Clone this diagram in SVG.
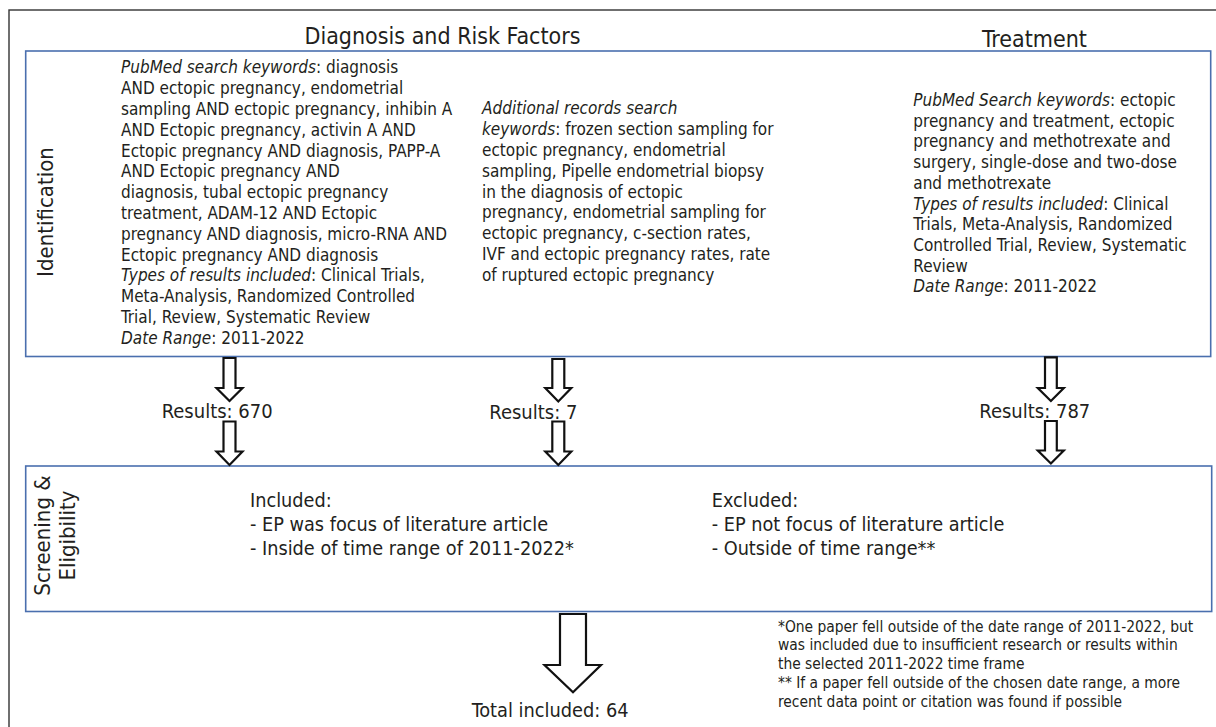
<svg xmlns="http://www.w3.org/2000/svg" width="1216" height="727" viewBox="0 0 1216 727">
<style>
text{font-family:"DejaVu Sans Condensed","DejaVu Sans",sans-serif;font-stretch:condensed;fill:#231f20}
.hd{font-size:23px}
.lb{font-size:22px}
.bd{font-size:17px}
.rs{font-size:20px}
.cr{font-size:19.7px}
.ft{font-size:15.4px}
.box{fill:none;stroke:#4a6fae;stroke-width:1.6}
.arr{fill:#fff;stroke:#111;stroke-width:2.2;stroke-linejoin:miter}
.it{font-style:italic}
</style>
<rect x="9" y="10" width="1230" height="740" fill="none" stroke="#333" stroke-width="1.4"/>
<text class="hd" x="442.5" y="44" text-anchor="middle">Diagnosis and Risk Factors</text>
<text class="hd" x="1034.5" y="47" text-anchor="middle">Treatment</text>
<g id="identification">
<rect class="box" x="25.7" y="51" width="1185" height="305.5"/>
<text class="lb" transform="translate(53,212) rotate(-90)" text-anchor="middle">Identification</text>
<text class="bd" x="121" y="73.3"><tspan class="it">PubMed search keywords</tspan>: diagnosis</text>
<text class="bd" x="121" y="94.1">AND ectopic pregnancy, endometrial</text>
<text class="bd" x="121" y="114.9">sampling AND ectopic pregnancy, inhibin A</text>
<text class="bd" x="121" y="135.7">AND Ectopic pregnancy, activin A AND</text>
<text class="bd" x="121" y="156.5">Ectopic pregnancy AND diagnosis, PAPP-A</text>
<text class="bd" x="121" y="177.3">AND Ectopic pregnancy AND</text>
<text class="bd" x="121" y="198.1">diagnosis, tubal ectopic pregnancy</text>
<text class="bd" x="121" y="218.9">treatment, ADAM-12 AND Ectopic</text>
<text class="bd" x="121" y="239.7">pregnancy AND diagnosis, micro-RNA AND</text>
<text class="bd" x="121" y="260.5">Ectopic pregnancy AND diagnosis</text>
<text class="bd" x="121" y="281.3"><tspan class="it">Types of results included</tspan>: Clinical Trials,</text>
<text class="bd" x="121" y="302.1">Meta-Analysis, Randomized Controlled</text>
<text class="bd" x="121" y="322.9">Trial, Review, Systematic Review</text>
<text class="bd" x="121" y="343.7"><tspan class="it">Date Range</tspan>: 2011-2022</text>
<text class="bd" x="482" y="114.3"><tspan class="it">Additional records search</tspan></text>
<text class="bd" x="482" y="135.1"><tspan class="it">keywords</tspan>: frozen section sampling for</text>
<text class="bd" x="482" y="155.9">ectopic pregnancy, endometrial</text>
<text class="bd" x="482" y="176.7">sampling, Pipelle endometrial biopsy</text>
<text class="bd" x="482" y="197.5">in the diagnosis of ectopic</text>
<text class="bd" x="482" y="218.3">pregnancy, endometrial sampling for</text>
<text class="bd" x="482" y="239.1">ectopic pregnancy, c-section rates,</text>
<text class="bd" x="482" y="259.9">IVF and ectopic pregnancy rates, rate</text>
<text class="bd" x="482" y="280.7">of ruptured ectopic pregnancy</text>
<text class="bd" x="913.3" y="106"><tspan class="it">PubMed Search keywords</tspan>: ectopic</text>
<text class="bd" x="913.3" y="126.7">pregnancy and treatment, ectopic</text>
<text class="bd" x="913.3" y="147.4">pregnancy and methotrexate and</text>
<text class="bd" x="913.3" y="168.1">surgery, single-dose and two-dose</text>
<text class="bd" x="913.3" y="188.8">and methotrexate</text>
<text class="bd" x="913.3" y="209.5"><tspan class="it">Types of results included</tspan>: Clinical</text>
<text class="bd" x="913.3" y="230.2">Trials, Meta-Analysis, Randomized</text>
<text class="bd" x="913.3" y="250.9">Controlled Trial, Review, Systematic</text>
<text class="bd" x="913.3" y="271.6">Review</text>
<text class="bd" x="913.3" y="292.3"><tspan class="it">Date Range</tspan>: 2011-2022</text>
</g>
<g id="results">
<text class="rs" x="161.7" y="418.3">Results: 670</text>
<text class="rs" x="489.3" y="419.3">Results: 7</text>
<text class="rs" x="979.3" y="418.3">Results: 787</text>
</g>
<g id="screening">
<rect class="box" x="25.7" y="466" width="1186" height="145.5"/>
<text class="lb" transform="translate(50,535.5) rotate(-90)" text-anchor="middle">Screening &amp;</text>
<text class="lb" transform="translate(75,535.5) rotate(-90)" text-anchor="middle">Eligibility</text>
<text class="cr" x="250" y="507.3">Included:</text>
<text class="cr" x="250" y="531">- EP was focus of literature article</text>
<text class="cr" x="250" y="555">- Inside of time range of 2011-2022*</text>
<text class="cr" x="711.7" y="507.3">Excluded:</text>
<text class="cr" x="711.7" y="531">- EP not focus of literature article</text>
<text class="cr" x="711.7" y="555">- Outside of time range**</text>
</g>
<g id="total">
<text class="rs" x="471.7" y="716.7" style="font-size:19.8px">Total included: 64</text>
</g>
<g id="footnotes">
<text class="ft" x="778" y="631.7">*One paper fell outside of the date range of 2011-2022, but</text>
<text class="ft" x="778" y="650.4">was included due to insufficient research or results within</text>
<text class="ft" x="778" y="669.1">the selected 2011-2022 time frame</text>
<text class="ft" x="778" y="687.8">** If a paper fell outside of the chosen date range, a more</text>
<text class="ft" x="778" y="706.5">recent data point or citation was found if possible</text>
</g>
<g id="connectors">
<polygon class="arr" points="223.5,358 235.5,358 235.5,388 242.5,388 229.5,401 216.5,388 223.5,388"/>
<polygon class="arr" points="223.5,421.5 235.5,421.5 235.5,451.5 242.5,451.5 229.5,465 216.5,451.5 223.5,451.5"/>
<polygon class="arr" points="552.3,359 564.3,359 564.3,388 571.3,388 558.3,401.5 545.3,388 552.3,388"/>
<polygon class="arr" points="552.3,421.5 564.3,421.5 564.3,451.5 571.3,451.5 558.3,465 545.3,451.5 552.3,451.5"/>
<polygon class="arr" points="1045,357.3 1056.8,357.3 1056.8,388 1063.8,388 1050.9,401 1037.8,388 1045,388"/>
<polygon class="arr" points="1045,421 1056.8,421 1056.8,450.5 1063.8,450.5 1050.9,463.5 1037.8,450.5 1045,450.5"/>
<polygon class="arr" points="560,614 586,614 586,665 601,665 573,692.3 544.5,665 560,665"/>
</g>
</svg>
